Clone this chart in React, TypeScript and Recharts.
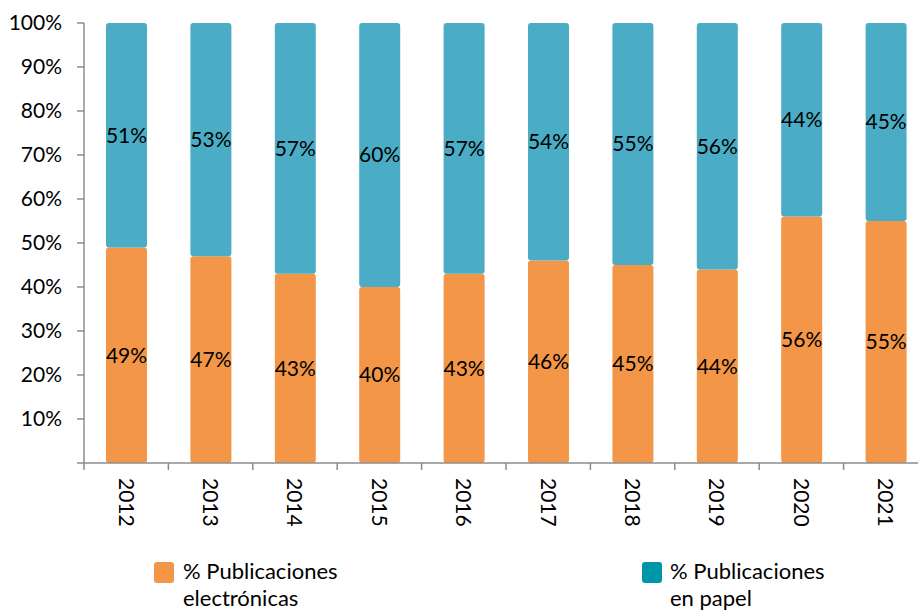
import React from 'react';
import { BarChart, Bar, XAxis, YAxis, LabelList } from 'recharts';

const years = ['2012', '2013', '2014', '2015', '2016', '2017', '2018', '2019', '2020', '2021'];
const electronicas = [49, 47, 43, 40, 43, 46, 45, 44, 56, 55];
const papel = [51, 53, 57, 60, 57, 54, 55, 56, 44, 45];
const yTicks = [0, 10, 20, 30, 40, 50, 60, 70, 80, 90, 100];
const seriesNames = ['% Publicaciones electrónicas', '% Publicaciones en papel'];

const data = years.map((year, i) => ({ year, electronicas: electronicas[i], papel: papel[i] }));

const FONT = 'Lato, "Open Sans", sans-serif';
const AXIS = '#8c8c8c';
const ORANGE = '#F39647';
const BLUE = '#4BACC6';
const LEGEND_BLUE = '#0096A9';

const CHART_W = 940;
const CHART_H = 612;
const MARGIN = { top: 23, right: 12, left: 0, bottom: 0 };
const Y_W = 84;
const X_H = 149;
const PLOT_W = CHART_W - MARGIN.left - MARGIN.right - Y_W;
const AXIS_Y = CHART_H - X_H;

const XTick = (props: any) => {
  const { x, payload, index } = props;
  const band = PLOT_W / years.length;
  const left = x - band / 2;
  return (
    <g>
      <line x1={left} x2={left} y1={AXIS_Y} y2={AXIS_Y + 7} stroke={AXIS} strokeWidth={1.5} />
      {index === years.length - 1 && (
        <line x1={left + band} x2={left + band} y1={AXIS_Y} y2={AXIS_Y + 7} stroke={AXIS} strokeWidth={1.5} />
      )}
      <text
        transform={`translate(${x},${AXIS_Y + 15}) rotate(90)`}
        dy="0.36em"
        textAnchor="start"
        fontSize={21}
        fill="#000"
        fontFamily={FONT}
      >
        {payload.value}
      </text>
    </g>
  );
};

const legendItems = [
  { name: seriesNames[0], color: ORANGE, boxLeft: 154, textLeft: 183 },
  { name: seriesNames[1], color: LEGEND_BLUE, boxLeft: 642, textLeft: 670 },
];

export default function App() {
  return (
    <div
      style={{
        position: 'absolute',
        left: 0,
        top: 0,
        width: 918,
        height: 612,
        overflow: 'hidden',
        background: '#fff',
        fontFamily: FONT,
      }}
    >
      <BarChart width={CHART_W} height={CHART_H} data={data} margin={MARGIN}>
        <XAxis
          dataKey="year"
          height={X_H}
          axisLine={{ stroke: AXIS, strokeWidth: 1.5 }}
          tickLine={false}
          tick={<XTick />}
          interval={0}
        />
        <YAxis
          width={Y_W}
          domain={[0, 100]}
          ticks={yTicks}
          interval={0}
          tickFormatter={(v: number) => (v === 0 ? '' : `${v}%`)}
          axisLine={{ stroke: AXIS, strokeWidth: 1.5 }}
          tickLine={{ stroke: AXIS, strokeWidth: 1.5 }}
          tickSize={7}
          tickMargin={15}
          tick={{ fontSize: 21, fill: '#000', fontFamily: FONT }}
        />
        <Bar dataKey="electronicas" stackId="a" fill={ORANGE} barSize={41} radius={3} isAnimationActive={false}>
          <LabelList
            dataKey="electronicas"
            position="center"
            formatter={(v: any) => `${v}%`}
            style={{ fontSize: 21, fill: '#000', fontFamily: FONT }}
          />
        </Bar>
        <Bar dataKey="papel" stackId="a" fill={BLUE} barSize={41} radius={3} isAnimationActive={false}>
          <LabelList
            dataKey="papel"
            position="center"
            formatter={(v: any) => `${v}%`}
            style={{ fontSize: 21, fill: '#000', fontFamily: FONT }}
          />
        </Bar>
      </BarChart>
      {legendItems.map((it) => (
        <React.Fragment key={it.name}>
          <div
            style={{
              position: 'absolute',
              left: it.boxLeft,
              top: 562,
              width: 20,
              height: 21,
              borderRadius: 3,
              background: it.color,
            }}
          />
          <div
            style={{
              position: 'absolute',
              left: it.textLeft,
              top: 557,
              width: 178,
              fontSize: 22,
              lineHeight: '27px',
              color: '#000',
              fontFamily: FONT,
            }}
          >
            {it.name}
          </div>
        </React.Fragment>
      ))}
    </div>
  );
}
